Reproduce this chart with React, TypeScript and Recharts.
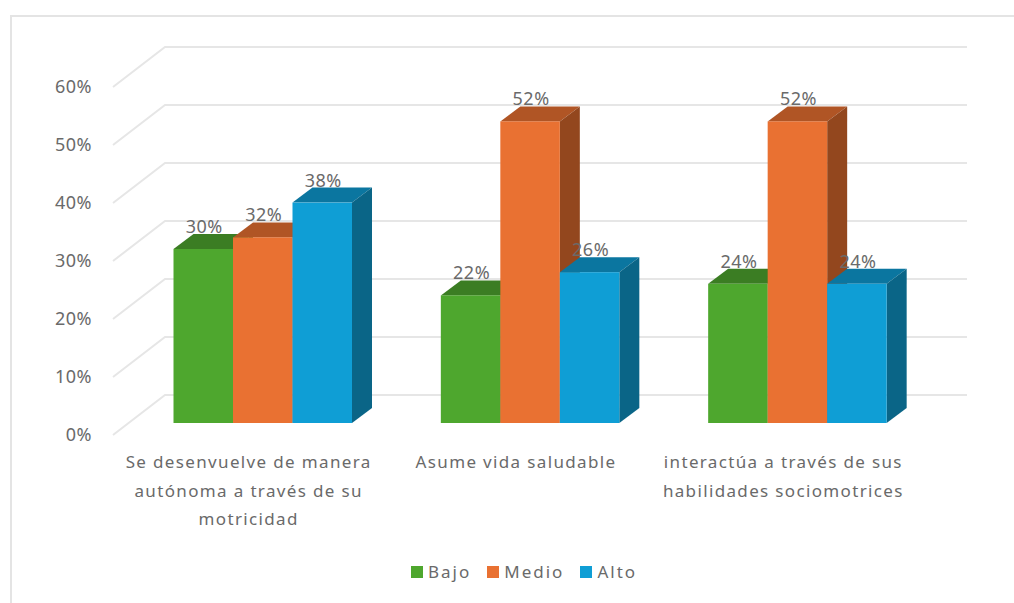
import { Bar, BarChart, CartesianGrid, LabelList, Legend, XAxis, YAxis } from "recharts";

const categories = [
  "Se desenvuelve de manera\nautónoma a través de su\nmotricidad",
  "Asume vida saludable",
  "interactúa a través de sus\nhabilidades sociomotrices",
];
const bajo = [30, 22, 24];
const medio = [32, 52, 52];
const alto = [38, 26, 24];
const yTicks = [0, 10, 20, 30, 40, 50, 60];

const chartData = categories.map((category, i) => ({
  category,
  bajo: bajo[i],
  medio: medio[i],
  alto: alto[i],
}));

const FONT = "'Noto Sans', sans-serif";
const TEXT = "#6a6a6a";

// depth of the extruded bars, and how far they sit in front of the back wall
const DEPTH_X = 20;
const DEPTH_Y = 15;
const BAR_DX = 16.5;
const BAR_DY = -12;
const WALL_X = 52;
const WALL_Y = 40;

function box(topFill: string, sideFill: string) {
  return (props: any) => {
    const x = props.x + BAR_DX;
    const y = props.y + BAR_DY;
    const { width: w, height: h, fill } = props;
    return (
      <g>
        <polygon
          points={`${x},${y} ${x + DEPTH_X},${y - DEPTH_Y} ${x + w + DEPTH_X},${y - DEPTH_Y} ${x + w},${y}`}
          fill={topFill}
        />
        <polygon
          points={`${x + w},${y} ${x + w + DEPTH_X},${y - DEPTH_Y} ${x + w + DEPTH_X},${y + h - DEPTH_Y} ${x + w},${y + h}`}
          fill={sideFill}
        />
        <rect x={x} y={y} width={w} height={h} fill={fill} />
      </g>
    );
  };
}

function wallLine(props: any) {
  const { x1, x2, y1 } = props;
  return (
    <polyline
      key={props.key ?? y1}
      points={`${x1},${y1} ${x1 + WALL_X},${y1 - WALL_Y} ${x2 + WALL_X},${y1 - WALL_Y}`}
      fill="none"
      stroke="#e6e6e6"
      strokeWidth={2}
    />
  );
}

function valueLabel(props: any) {
  const { x, y, width, value } = props;
  return (
    <text
      x={x + BAR_DX + width / 2 + 1}
      y={y + BAR_DY - 23}
      textAnchor="middle"
      dominantBaseline="central"
      fontFamily={FONT}
      fontSize={18}
      letterSpacing={0.5}
      fill={TEXT}
    >
      {value}%
    </text>
  );
}

function CategoryTick({ x, y, payload }: any) {
  const lines = String(payload.value).split("\n");
  return (
    <text textAnchor="middle" fontFamily={FONT} fontSize={17} letterSpacing={1.35} fill={TEXT}>
      {lines.map((line, i) => (
        <tspan key={i} x={x + 2} y={y + 25 + i * 28.5}>
          {line}
        </tspan>
      ))}
    </text>
  );
}

function LegendRow({ payload }: any) {
  return (
    <div style={{ display: "flex", fontFamily: FONT, fontSize: 17, letterSpacing: 2, color: TEXT, lineHeight: "20px" }}>
      {(payload ?? []).map((entry: any) => (
        <div key={entry.value} style={{ display: "flex", alignItems: "center", marginRight: 16 }}>
          <span style={{ width: 12, height: 12, background: entry.color, marginRight: 5 }} />
          {entry.value}
        </div>
      ))}
    </div>
  );
}

export default function App() {
  return (
    <div style={{ position: "absolute", left: 0, top: 0, width: 1014, height: 603, overflow: "hidden", background: "#fff" }}>
      <div
        style={{
          position: "absolute",
          left: 10,
          top: 15,
          right: 0,
          bottom: 0,
          borderLeft: "2px solid #e4e4e4",
          borderTop: "2px solid #e4e4e4",
        }}
      />
      <BarChart
        width={1014}
        height={603}
        data={chartData}
        barSize={59.5}
        barGap={0}
        margin={{ top: 87, right: 99, bottom: 88, left: 0 }}
        style={{ position: "absolute", left: 0, top: 0 }}
      >
        <CartesianGrid vertical={false} horizontal={wallLine} />
        <XAxis dataKey="category" axisLine={false} tickLine={false} height={60} interval={0} tick={CategoryTick} />
        <YAxis
          width={113}
          domain={[0, 60]}
          ticks={yTicks}
          axisLine={false}
          tickLine={false}
          tickMargin={15}
          tick={{ fontFamily: FONT, fontSize: 18, letterSpacing: 0.5, fill: TEXT }}
          tickFormatter={(v) => `${v}%`}
        />
        <Legend
          content={LegendRow}
          itemSorter={null}
          wrapperStyle={{ left: 411, top: 562, width: "auto", bottom: "auto" }}
        />
        <Bar dataKey="bajo" name="Bajo" fill="#4ea72e" shape={box("#3b7d23", "#33701f")} isAnimationActive={false}>
          <LabelList dataKey="bajo" content={valueLabel} />
        </Bar>
        <Bar dataKey="medio" name="Medio" fill="#e97132" shape={box("#b05525", "#93471e")} isAnimationActive={false}>
          <LabelList dataKey="medio" content={valueLabel} />
        </Bar>
        <Bar dataKey="alto" name="Alto" fill="#0f9ed5" shape={box("#0b76a0", "#0a6587")} isAnimationActive={false}>
          <LabelList dataKey="alto" content={valueLabel} />
        </Bar>
      </BarChart>
    </div>
  );
}
